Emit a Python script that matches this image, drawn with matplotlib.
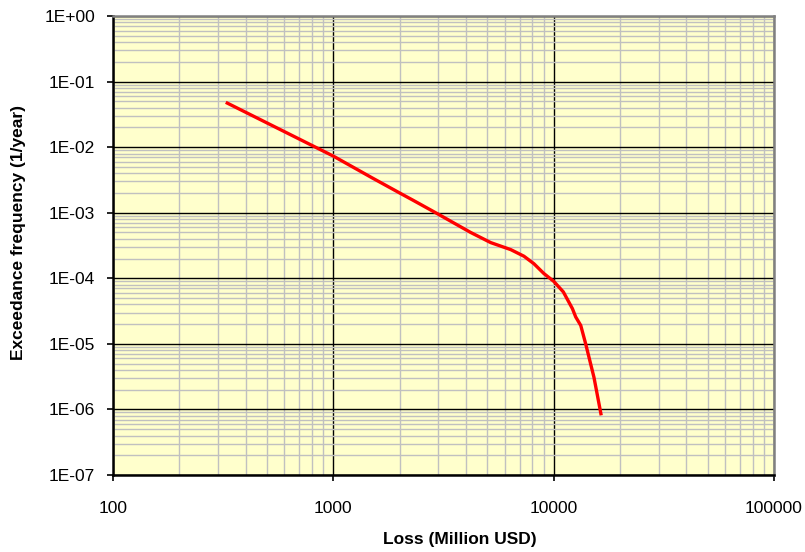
import math

import matplotlib
matplotlib.use("Agg")
import matplotlib.pyplot as plt
from matplotlib.ticker import FixedLocator, FuncFormatter, LogLocator, NullFormatter

# Exceedance curve
loss = [330, 1000, 1500, 2000, 2300, 2960, 4200, 5180, 6380, 7330, 8130,
        9030, 10000, 11060, 12160, 12590, 13270, 13970, 15230, 16380]
freq = [4.7e-2, 7.3e-3, 3.4e-3, 2.0e-3, 1.55e-3, 9.7e-4, 5.0e-4, 3.5e-4,
        2.74e-4, 2.17e-4, 1.67e-4, 1.18e-4, 9.0e-5, 6.2e-5, 3.45e-5,
        2.57e-5, 1.91e-5, 1.0e-5, 3.1e-6, 8.6e-7]

x_ticks = [100, 1000, 10000, 100000]
y_ticks = [1e-7, 1e-6, 1e-5, 1e-4, 1e-3, 1e-2, 1e-1, 1e0]

plt.rcParams["font.family"] = ["Liberation Sans", "DejaVu Sans"]

fig = plt.figure(figsize=(8.05, 5.52), dpi=100)
ax = fig.add_axes([0.1404, 0.1395, 0.8211, 0.8315])
ax.set_facecolor("#FFFFCC")
ax.set_xscale("log")
ax.set_yscale("log")
ax.set_xlim(100, 100000)
ax.set_ylim(1e-7, 1)

ax.xaxis.set_major_locator(FixedLocator(x_ticks))
ax.yaxis.set_major_locator(FixedLocator(y_ticks))
ax.xaxis.set_minor_locator(LogLocator(base=10, subs=range(2, 10), numticks=20))
ax.yaxis.set_minor_locator(LogLocator(base=10, subs=range(2, 10), numticks=20))
ax.xaxis.set_minor_formatter(NullFormatter())
ax.yaxis.set_minor_formatter(NullFormatter())
ax.xaxis.set_major_formatter(FuncFormatter(lambda v, p: f"{v:.0f}"))


def sci(v, p):
    e = int(round(math.log10(v)))
    return f"1E{'+' if e >= 0 else '-'}{abs(e):02d}"


ax.yaxis.set_major_formatter(FuncFormatter(sci))

ax.grid(which="minor", color="#c0c0c0", linewidth=1.0)
ax.grid(which="major", color="black", linewidth=1.0)
ax.set_axisbelow(True)

ax.plot(loss, freq, color="#ff0000", linewidth=2.4, zorder=3)

ax.tick_params(which="minor", length=0)
ax.tick_params(which="major", length=4, width=1.2, direction="out",
               labelsize=12.5, colors="black")
ax.tick_params(axis="x", pad=15)
ax.tick_params(axis="y", pad=9)
for s in ["left", "bottom"]:
    ax.spines[s].set_linewidth(1.8)
    ax.spines[s].set_color("black")
for s in ["top", "right"]:
    ax.spines[s].set_linewidth(1.8)
    ax.spines[s].set_color("#808080")

ax.set_xlabel("Loss (Million USD)", fontsize=12.5, fontweight="bold")
ax.set_ylabel("Exceedance frequency (1/year)", fontsize=12.5, fontweight="bold")
ax.xaxis.set_label_coords(0.525, -0.124)
ax.yaxis.set_label_coords(-0.131, 0.529)

fig.savefig("out.png", dpi=100)
